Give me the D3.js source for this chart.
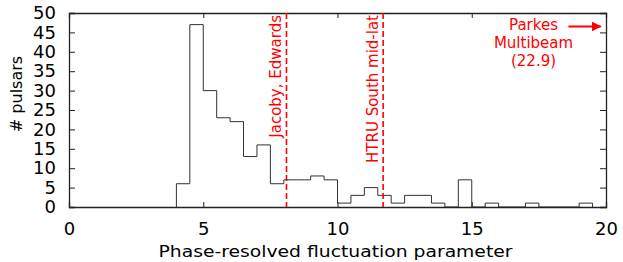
<!DOCTYPE html>
<html>
<head>
<meta charset="utf-8">
<script src="https://cdn.jsdelivr.net/npm/d3@7"></script>
<style>
  body { margin: 0; background: #fff; }
  text { font-family: "DejaVu Sans", sans-serif; }
</style>
</head>
<body>
<div id="chart"></div>
<script>
// bin left edges (width 0.5) and counts
let binStart = [4.0,4.5,5.0,5.5,6.0,6.5,7.0,7.5,8.0,8.5,9.0,9.5,10.0,10.5,11.0,11.5,12.0,12.5,13.0,13.5,14.0,14.5,15.0,15.5,16.0,16.5,17.0,17.5,18.0,18.5,19.0];
let counts   = [6,  47, 30, 23, 22, 13, 16, 6,  7,  7,  8,  7,  1,  3,  5,  3,  1,  3,  3,  1,  0,  7,  0,  1,  0,  0,  1,  0,  0,  0,  1];
let binWidth = 0.5;

let xTicks = [0,5,10,15,20];
let yTicks = [0,5,10,15,20,25,30,35,40,45,50];

// survey thresholds
let surveyNames = ["Jacoby, Edwards","HTRU South mid-lat"];
let surveyX = [8.1, 11.7];

let margin = {top: 13, right: 17, bottom: 55, left: 69},
    width = 623 - margin.left - margin.right,
    height = 262 - margin.top - margin.bottom;

let svg = d3.select("#chart")
  .append("svg")
    .attr("width", 623)
    .attr("height", 262)
  .append("g")
    .attr("transform", "translate(" + margin.left + "," + margin.top + ")");

let x = d3.scaleLinear().domain([0, 20]).range([0, width]);
let y = d3.scaleLinear().domain([0, 50]).range([height, 0]);

// histogram outline as steps
let pts = [[binStart[0], 0]];
for (let i = 0; i < counts.length; i++) {
  pts.push([binStart[i], counts[i]]);
  pts.push([binStart[i] + binWidth, counts[i]]);
}
pts.push([binStart[binStart.length-1] + binWidth, 0]);

svg.append("path")
  .datum(pts)
  .attr("fill", "none")
  .attr("stroke", "#333")
  .attr("stroke-width", 1)
  .attr("d", d3.line().x(d => x(d[0])).y(d => y(d[1])));

// axes: ticks inside, mirrored
let tl = 6;
svg.append("g")
  .attr("transform", "translate(0," + height + ")")
  .call(d3.axisBottom(x).tickValues(xTicks).tickSize(-5).tickPadding(15))
  .call(g => g.selectAll("text").attr("font-size", 18).attr("fill", "#000").attr("font-family", "Liberation Sans, sans-serif"));
svg.append("g")
  .call(d3.axisTop(x).tickValues(xTicks).tickSize(-5).tickFormat(""));
svg.append("g")
  .call(d3.axisLeft(y).tickValues(yTicks).tickSize(-tl).tickPadding(13))
  .call(g => g.selectAll("text").attr("font-size", 18).attr("fill", "#000").attr("font-family", "Liberation Sans, sans-serif"));
svg.append("g")
  .attr("transform", "translate(" + width + ",0)")
  .call(d3.axisRight(y).tickValues(yTicks).tickSize(-tl).tickFormat(""));

svg.selectAll(".domain").attr("stroke", "#222").attr("stroke-width", 1.3);
svg.selectAll(".tick line").attr("stroke", "#222");

// survey lines
svg.selectAll(".survey")
  .data(surveyX)
  .enter()
  .append("line")
    .attr("x1", d => x(d)).attr("x2", d => x(d))
    .attr("y1", 0).attr("y2", height)
    .attr("stroke", "#ff0000")
    .attr("stroke-width", 1.6)
    .attr("stroke-dasharray", "6,3");

svg.selectAll(".surveyLabel")
  .data(surveyNames)
  .enter()
  .append("text")
    .attr("transform", (d, i) => "translate(" + (x(surveyX[i]) - 5) + ",2) rotate(-90)")
    .attr("text-anchor", "end")
    .attr("font-size", 15)
    .attr("fill", "#ff0000")
    .text(d => d);

// Parkes note
let note = ["Parkes", "Multibeam", "(22.9)"];
svg.selectAll(".note")
  .data(note)
  .enter()
  .append("text")
    .attr("x", x(17.3))
    .attr("y", (d, i) => 17 + i * 18)
    .attr("text-anchor", "middle")
    .attr("font-size", 15)
    .attr("fill", "#ff0000")
    .text(d => d);

svg.append("defs").append("marker")
  .attr("id", "arr")
  .attr("viewBox", "0 0 10 10")
  .attr("refX", 9).attr("refY", 5)
  .attr("markerWidth", 5).attr("markerHeight", 5)
  .attr("orient", "auto")
  .append("path").attr("d", "M0,0 L10,5 L0,10 z").attr("fill", "#ff0000");

svg.append("line")
  .attr("x1", x(18.6)).attr("x2", x(19.8))
  .attr("y1", 13.5).attr("y2", 13.5)
  .attr("stroke", "#ff0000")
  .attr("stroke-width", 2)
  .attr("marker-end", "url(#arr)");

// axis titles
svg.append("text")
  .attr("x", width / 2 - 2)
  .attr("y", height + 50)
  .attr("text-anchor", "middle")
  .attr("font-size", 16)
  .attr("textLength", 354)
  .attr("lengthAdjust", "spacingAndGlyphs")
  .text("Phase-resolved fluctuation parameter");

svg.append("text")
  .attr("transform", "translate(-47," + (94 - margin.top) + ") rotate(-90)")
  .attr("text-anchor", "middle")
  .attr("font-size", 16)
  .text("# pulsars");
</script>
</body>
</html>
